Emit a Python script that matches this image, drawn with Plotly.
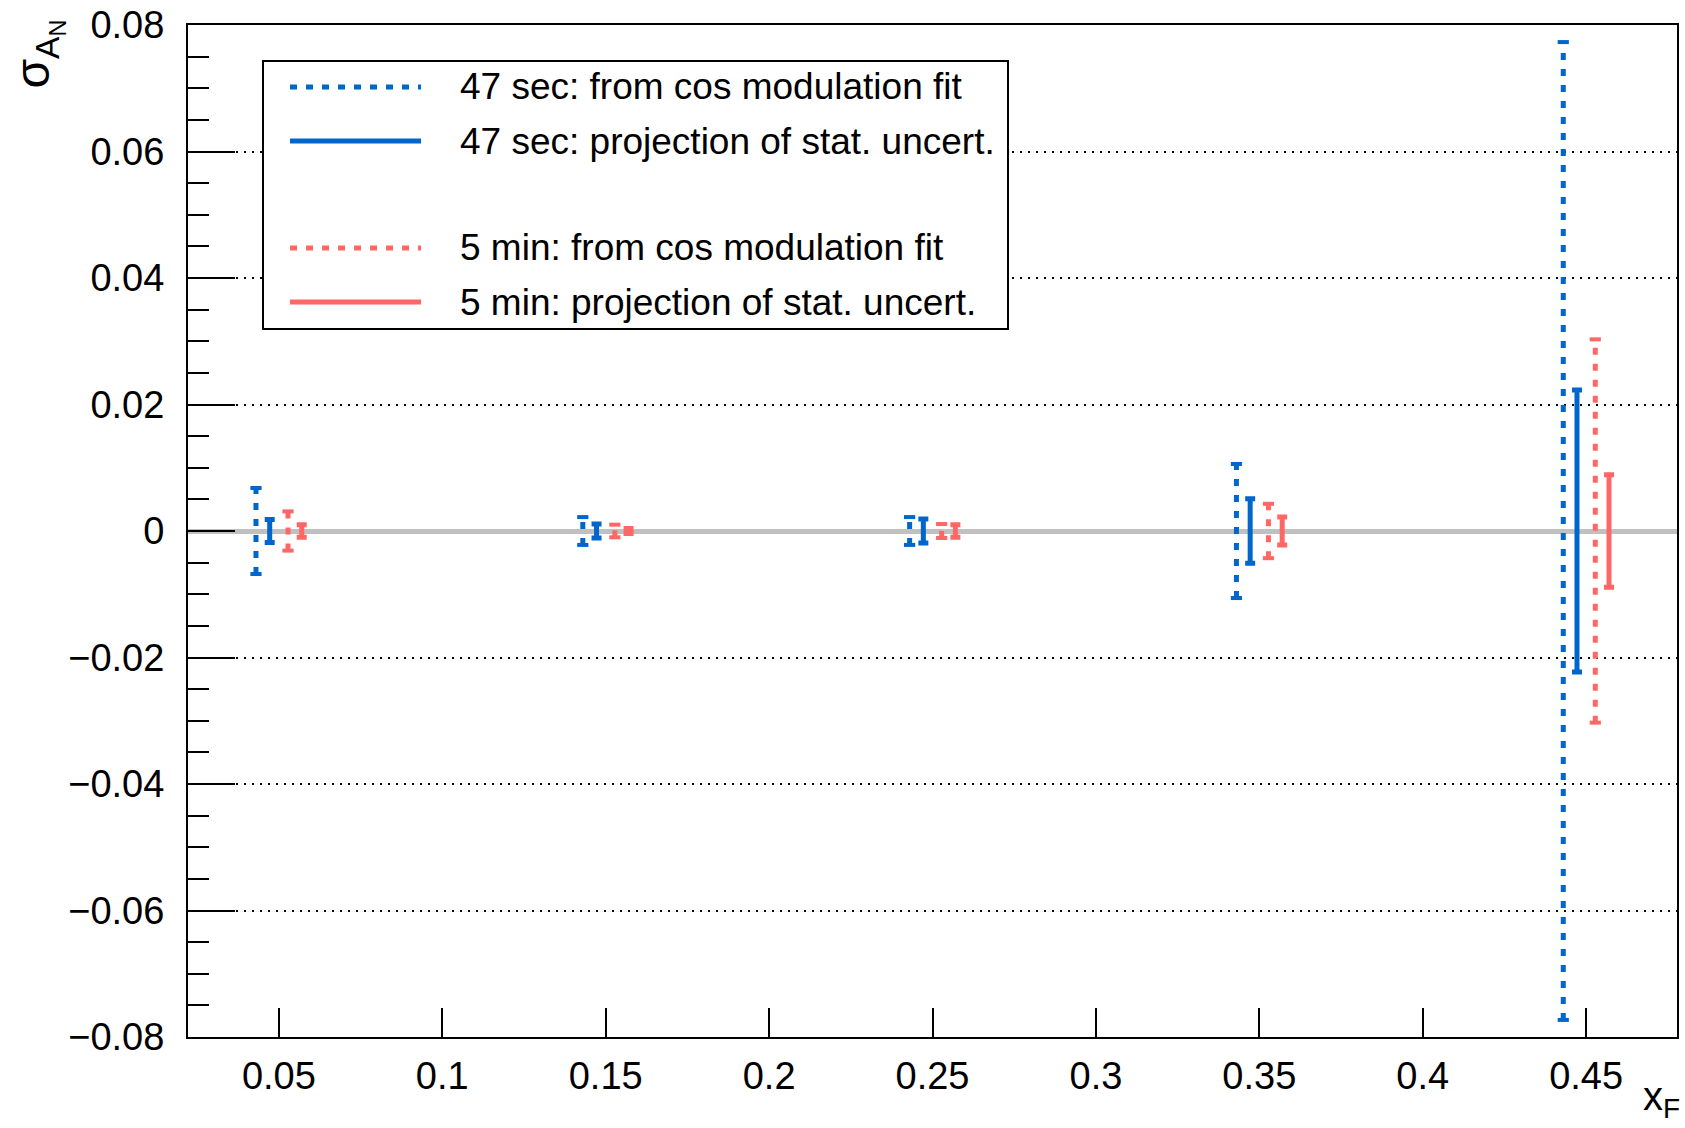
import plotly.graph_objects as go

# ---------------- data ----------------
x_f = [0.05, 0.15, 0.25, 0.35, 0.45]
sigma_47s_fit = [0.0068, 0.0022, 0.0022, 0.0106, 0.0773]
sigma_47s_proj = [0.0018, 0.0011, 0.0019, 0.0051, 0.0223]
sigma_5min_fit = [0.0031, 0.0010, 0.0011, 0.0043, 0.0303]
sigma_5min_proj = [0.0010, 0.0004, 0.0010, 0.0022, 0.0089]

legend_labels = [
    "47 sec: from cos modulation fit",
    "47 sec: projection of stat. uncert.",
    "5 min: from cos modulation fit",
    "5 min: projection of stat. uncert.",
]

x_tick_vals = [0.05, 0.1, 0.15, 0.2, 0.25, 0.3, 0.35, 0.4, 0.45]
x_tick_text = ["0.05", "0.1", "0.15", "0.2", "0.25", "0.3", "0.35", "0.4", "0.45"]
y_tick_vals = [-0.08, -0.06, -0.04, -0.02, 0, 0.02, 0.04, 0.06, 0.08]
y_tick_text = ["\u22120.08", "\u22120.06", "\u22120.04", "\u22120.02", "0",
               "0.02", "0.04", "0.06", "0.08"]

# ---------------- style ----------------
BLUE = "rgb(0,102,204)"
RED = "rgb(255,102,102)"
FONT = "Liberation Sans, Arial, Helvetica, sans-serif"
DOT = "7px,9px"
offsets = [-0.0070, -0.0028, 0.0028, 0.0070]

fig = go.Figure()


def dotted_bar(values, dx, color, name):
    xs, ys = [], []
    for x, e in zip(x_f, values):
        xs += [x + dx, x + dx, None]
        ys += [-e, e, None]
    fig.add_trace(go.Scatter(x=xs, y=ys, mode="lines", name=name,
                             line=dict(color=color, width=5, dash=DOT),
                             showlegend=False, hoverinfo="skip"))
    cx, cy = [], []
    for x, e in zip(x_f, values):
        cx += [x + dx, x + dx]
        cy += [-e, e]
    fig.add_trace(go.Scatter(x=cx, y=cy, mode="markers", showlegend=False,
                             marker=dict(symbol="line-ew", size=8,
                                         line=dict(color=color, width=4)),
                             hoverinfo="skip"))


def solid_bar(values, dx, color, name):
    fig.add_trace(go.Scatter(
        x=[x + dx for x in x_f], y=[0] * len(x_f), mode="markers", name=name,
        marker=dict(size=1, color="rgba(0,0,0,0)"),
        error_y=dict(type="data", array=values, visible=True,
                     color=color, thickness=5, width=5),
        showlegend=False))


dotted_bar(sigma_47s_fit, offsets[0], BLUE, legend_labels[0])
solid_bar(sigma_47s_proj, offsets[1], BLUE, legend_labels[1])
dotted_bar(sigma_5min_fit, offsets[2], RED, legend_labels[2])
solid_bar(sigma_5min_proj, offsets[3], RED, legend_labels[3])

# ---------------- layout ----------------
W, H = 1685, 1128
L, R, T, B = 188, 8, 25, 91
pw, ph = W - L - R, H - T - B


def px(x):
    return (x - L) / pw


def py(y):
    return (H - B - y) / ph


shapes = []
annotations = []
# legend box
shapes.append(dict(type="rect", xref="paper", yref="paper",
                   x0=px(263), x1=px(1008), y0=py(329), y1=py(61),
                   line=dict(color="black", width=2), fillcolor="white",
                   layer="above"))
rows = [87, 141, 248, 302]
styles = [(BLUE, DOT), (BLUE, "solid"), (RED, DOT), (RED, "solid")]
for (c, d), ry, lab in zip(styles, rows, legend_labels):
    shapes.append(dict(type="line", xref="paper", yref="paper",
                       x0=px(290), x1=px(421), y0=py(ry), y1=py(ry),
                       line=dict(color=c, width=5, dash=d), layer="above"))
    annotations.append(dict(xref="paper", yref="paper", x=px(458), y=py(ry),
                            xanchor="left", yanchor="middle", showarrow=False,
                            text=lab, font=dict(family=FONT, size=37, color="black")))

# axis titles
annotations.append(dict(xref="paper", yref="paper", x=px(38), y=py(18),
                        xanchor="center", yanchor="top", textangle=-90,
                        showarrow=False,
                        text="\u03c3<sub>A<sub>N</sub></sub>",
                        font=dict(family=FONT, size=48, color="black")))
annotations.append(dict(xref="paper", yref="paper", x=px(1682), y=py(1126),
                        xanchor="right", yanchor="bottom", showarrow=False,
                        text="x<sub>F</sub>",
                        font=dict(family=FONT, size=40, color="black")))

fig.update_layout(
    width=W, height=H,
    margin=dict(l=L, r=R, t=T, b=B, autoexpand=False),
    paper_bgcolor="white", plot_bgcolor="white",
    showlegend=False,
    font=dict(family=FONT, size=38, color="black"),
    shapes=shapes, annotations=annotations,
    xaxis=dict(range=[0.0222, 0.4778], tickvals=x_tick_vals, ticktext=x_tick_text,
               ticks="inside", ticklen=29, tickwidth=2, tickcolor="black",
               showline=True, linecolor="black", linewidth=2, mirror=True,
               showgrid=False, zeroline=False, automargin=False,
               ticklabelstandoff=4,
               tickfont=dict(family=FONT, size=38, color="black")),
    yaxis=dict(range=[-0.08, 0.08], tickvals=y_tick_vals, ticktext=y_tick_text,
               ticks="inside", ticklen=47, tickwidth=2, tickcolor="black",
               showline=True, linecolor="black", linewidth=2, mirror=True,
               showgrid=True, gridcolor="black", gridwidth=1.5, griddash="2px,6px",
               zeroline=True, zerolinecolor="rgb(192,192,192)", zerolinewidth=5,
               minor=dict(ticks="inside", ticklen=21, tickwidth=2, tickcolor="black",
                          dtick=0.005, showgrid=False),
               ticklabelstandoff=14, automargin=False,
               tickfont=dict(family=FONT, size=38, color="black")),
)

fig.write_html("out.html",
               config={"displayModeBar": False},
               post_script="document.body.style.margin='0px';"
                           "document.body.style.overflow='hidden';")
